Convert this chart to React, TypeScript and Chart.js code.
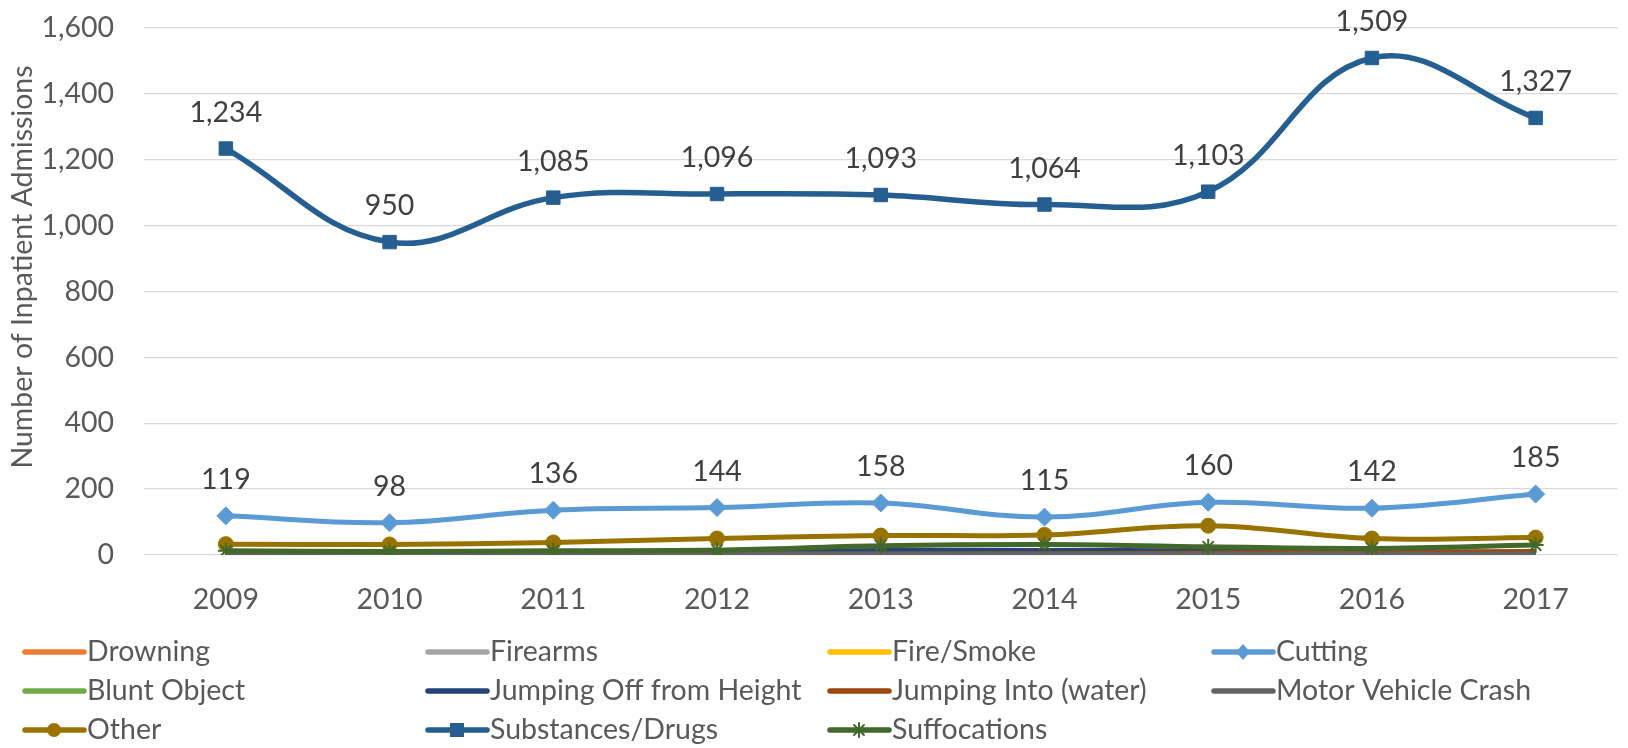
import React, { useEffect, useRef } from "react";
import { Chart, registerables } from "chart.js";

Chart.register(...registerables);

const years = ["2009", "2010", "2011", "2012", "2013", "2014", "2015", "2016", "2017"];
const drowning = [2, 1, 2, 1, 2, 1, 2, 1, 2];
const firearms = [1, 1, 1, 2, 1, 1, 1, 1, 1];
const fireSmoke = [1, 2, 1, 1, 1, 1, 1, 1, 1];
const cutting = [119, 98, 136, 144, 158, 115, 160, 142, 185];
const bluntObject = [2, 2, 3, 3, 3, 2, 3, 2, 2];
const jumpingOff = [7, 6, 8, 9, 14, 14, 12, 7, 5];
const jumpingInto = [2, 2, 3, 3, 3, 4, 6, 9, 11];
const motorVehicle = [3, 3, 3, 3, 3, 3, 3, 3, 3];
const other = [33, 32, 38, 50, 59, 61, 89, 50, 53];
const substances = [1234, 950, 1085, 1096, 1093, 1064, 1103, 1509, 1327];
const suffocations = [13, 11, 13, 15, 28, 32, 25, 20, 30];

const yMin = 0;
const yMax = 1600;
const yStep = 200;
const yTitle = "Number of Inpatient Admissions";

const FONT = "Lato, 'Open Sans', sans-serif";
const TEXT = "#595959";
const LABEL = "#404040";

type Series = {
  label: string;
  data: number[];
  color: string;
  marker: "none" | "rect" | "rectRot" | "circle" | "star";
  labels?: boolean;
  width?: number;
};

const series: Series[] = [
  { label: "Drowning", data: drowning, color: "#ED7D31", marker: "none" },
  { label: "Firearms", data: firearms, color: "#A5A5A5", marker: "none" },
  { label: "Fire/Smoke", data: fireSmoke, color: "#FFC000", marker: "none" },
  { label: "Cutting", data: cutting, color: "#5B9BD5", marker: "rectRot", labels: true },
  { label: "Blunt Object", data: bluntObject, color: "#70AD47", marker: "none" },
  { label: "Jumping Off from Height", data: jumpingOff, color: "#264478", marker: "none" },
  { label: "Jumping Into (water)", data: jumpingInto, color: "#9E480E", marker: "none" },
  { label: "Motor Vehicle Crash", data: motorVehicle, color: "#636363", marker: "none" },
  { label: "Other", data: other, color: "#997300", marker: "circle" },
  { label: "Substances/Drugs", data: substances, color: "#255E91", marker: "rect", labels: true, width: 5.5 },
  { label: "Suffocations", data: suffocations, color: "#43682B", marker: "star" },
];

const legendCols = [23, 426, 828, 1212];
const legendRows = [652, 691, 730];

function drawMarker(ctx: CanvasRenderingContext2D, kind: string, x: number, y: number, color: string) {
  ctx.save();
  ctx.fillStyle = color;
  ctx.strokeStyle = color;
  if (kind === "rect") {
    ctx.fillRect(x - 7, y - 7, 14, 14);
  } else if (kind === "rectRot") {
    ctx.beginPath();
    ctx.moveTo(x, y - 8);
    ctx.lineTo(x + 7, y);
    ctx.lineTo(x, y + 8);
    ctx.lineTo(x - 7, y);
    ctx.closePath();
    ctx.fill();
  } else if (kind === "circle") {
    ctx.beginPath();
    ctx.arc(x, y, 7, 0, Math.PI * 2);
    ctx.fill();
  } else if (kind === "star") {
    ctx.lineWidth = 2;
    const r = 7;
    ctx.beginPath();
    for (let i = 0; i < 4; i++) {
      const a = (i * Math.PI) / 4;
      ctx.moveTo(x - r * Math.cos(a), y - r * Math.sin(a));
      ctx.lineTo(x + r * Math.cos(a), y + r * Math.sin(a));
    }
    ctx.stroke();
  }
  ctx.restore();
}

const legendPlugin = {
  id: "gridLegend",
  afterDraw(chart: any) {
    const ctx: CanvasRenderingContext2D = chart.ctx;
    ctx.save();
    series.forEach((s, i) => {
      const x = legendCols[i % 4];
      const y = legendRows[Math.floor(i / 4)];
      ctx.strokeStyle = s.color;
      ctx.lineWidth = 5.5;
      ctx.lineCap = "round";
      ctx.beginPath();
      ctx.moveTo(x + 2, y);
      ctx.lineTo(x + 61, y);
      ctx.stroke();
      if (s.marker !== "none") drawMarker(ctx, s.marker, x + 31, y, s.color);
      ctx.fillStyle = TEXT;
      ctx.font = `28.5px ${FONT}`;
      ctx.textAlign = "left";
      ctx.textBaseline = "middle";
      ctx.fillText(s.label, x + 64, y);
    });
    // y axis title
    ctx.save();
    ctx.translate(23, 267);
    ctx.rotate(-Math.PI / 2);
    ctx.fillStyle = TEXT;
    ctx.font = `28.5px ${FONT}`;
    ctx.textAlign = "center";
    ctx.textBaseline = "middle";
    ctx.fillText(yTitle, 0, 0);
    ctx.restore();
    ctx.restore();
  },
};

const dataLabelPlugin = {
  id: "dataLabels",
  afterDatasetsDraw(chart: any) {
    const ctx: CanvasRenderingContext2D = chart.ctx;
    ctx.save();
    ctx.fillStyle = LABEL;
    ctx.font = `28.5px ${FONT}`;
    ctx.textAlign = "center";
    ctx.textBaseline = "middle";
    series.forEach((s, i) => {
      if (!s.labels) return;
      const meta = chart.getDatasetMeta(i);
      meta.data.forEach((pt: any, j: number) => {
        ctx.fillText(s.data[j].toLocaleString("en-US"), pt.x, pt.y - 36);
      });
    });
    ctx.restore();
  },
};

export default function App() {
  const ref = useRef<HTMLCanvasElement>(null);

  useEffect(() => {
    if (!ref.current) return;
    const chart = new Chart(ref.current, {
      type: "line",
      data: {
        labels: years,
        datasets: series.map((s, i) => ({
          label: s.label,
          data: s.data,
          borderColor: s.color,
          backgroundColor: s.color,
          borderWidth: s.width ?? 5,
          tension: 0.4,
          order: series.length - i,
          pointStyle: s.marker === "none" ? false : s.marker,
          pointRadius:
            s.marker === "none" ? 0 : s.marker === "rect" ? 9.5 : s.marker === "circle" ? 7.5 : s.marker === "star" ? 8 : 9,
          pointBorderWidth: s.marker === "star" ? 2 : 1,
          pointBackgroundColor: s.color,
          pointBorderColor: s.color,
          fill: false,
        })) as any,
      },
      options: {
        responsive: false,
        animation: false,
        layout: { padding: { top: 28, right: 2, bottom: 123, left: 0 } },
        plugins: {
          legend: { display: false },
          tooltip: { enabled: false },
        },
        scales: {
          x: {
            offset: true,
            grid: { display: false, drawTicks: false },
            border: { display: false },
            ticks: { color: TEXT, font: { family: FONT, size: 28.5 }, padding: 28 },
            afterFit: (scale: any) => {
              scale.height = 70;
            },
          },
          y: {
            min: yMin,
            max: yMax,
            grid: { color: "#D9D9D9", lineWidth: 1.3, drawTicks: false },
            border: { display: false },
            ticks: {
              stepSize: yStep,
              color: TEXT,
              font: { family: FONT, size: 28.5 },
              padding: 30,
              callback: (v: any) => Number(v).toLocaleString("en-US"),
            },
            afterFit: (scale: any) => {
              scale.width = 144;
              scale.paddingTop = 0;
              scale.paddingBottom = 0;
            },
          },
        },
      },
      plugins: [dataLabelPlugin, legendPlugin],
    });
    return () => chart.destroy();
  }, []);

  return (
    <div style={{ position: "fixed", left: 0, top: 0, width: 1628, height: 748, background: "#fff" }}>
      <canvas ref={ref} width={1628} height={748} style={{ display: "block" }} />
    </div>
  );
}
